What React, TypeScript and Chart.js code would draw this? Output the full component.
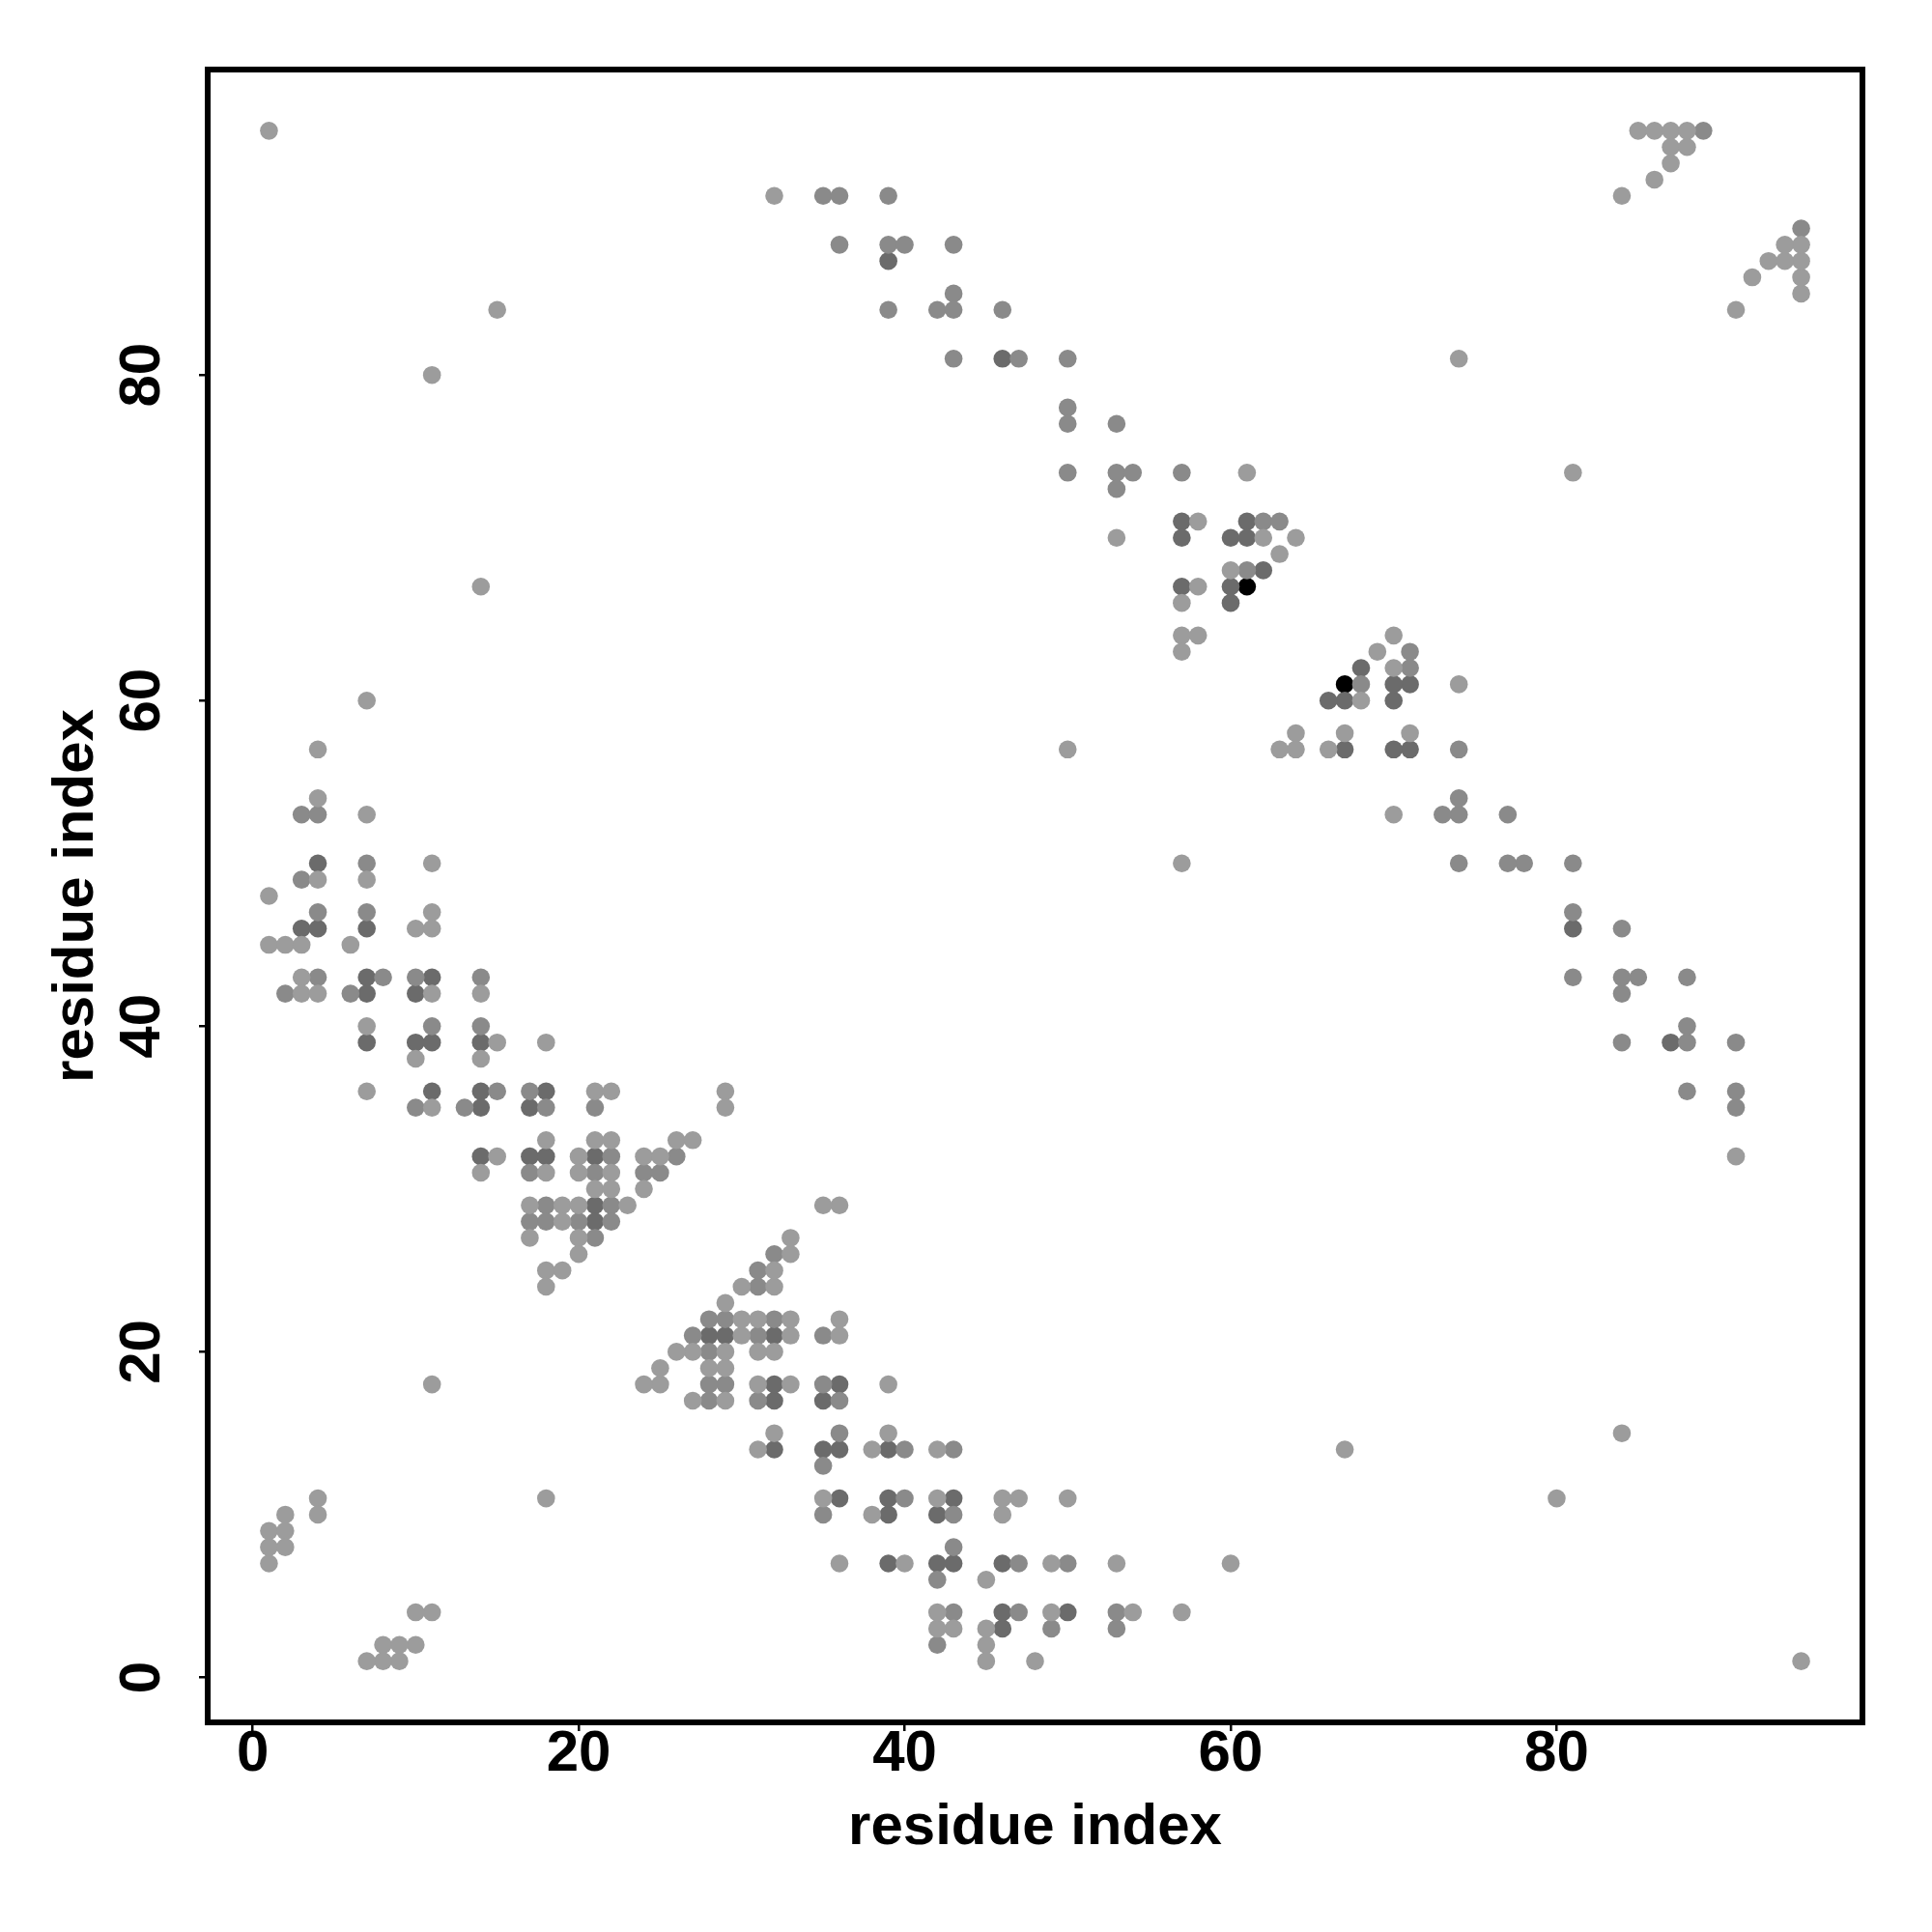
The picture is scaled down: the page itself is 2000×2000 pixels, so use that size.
import React, { useEffect, useRef } from "react";
import { Chart, registerables } from "chart.js";

Chart.register(...registerables);

const axisMin = -2.76;
const axisMax = 98.76;
const tickValues = [0, 20, 40, 60, 80];
const xTitle = "residue index";
const yTitle = "residue index";

const lightPoints: [number, number][] = [
  [1, 95], [1, 48], [1, 45], [1, 9], [1, 8], [1, 7],
  [2, 45], [2, 10], [2, 9], [2, 8],
  [3, 45], [3, 43], [3, 42],
  [4, 57], [4, 54], [4, 49], [4, 42], [4, 11], [4, 10],
  [6, 45],
  [7, 60], [7, 53], [7, 49], [7, 40], [7, 36],
  [10, 46], [10, 38],
  [11, 80], [11, 50], [11, 47], [11, 46], [11, 42], [11, 35], [11, 18],
  [14, 67], [14, 42], [14, 38], [14, 31],
  [15, 84], [15, 39], [15, 32],
  [17, 29], [17, 27],
  [18, 39], [18, 33], [18, 31], [18, 25], [18, 24],
  [19, 29], [19, 28], [19, 25],
  [20, 32], [20, 31], [20, 29], [20, 27], [20, 26],
  [21, 36], [21, 33], [21, 30],
  [22, 36], [22, 33], [22, 31], [22, 30],
  [23, 29],
  [24, 32], [24, 30],
  [25, 32],
  [26, 33],
  [27, 33],
  [29, 36], [29, 35],
  [32, 91],
  [50, 57],
  [53, 70],
  [57, 66], [57, 64], [57, 63],
  [58, 71], [58, 67], [58, 64],
  [60, 68],
  [61, 74],
  [62, 70],
  [63, 69],
  [64, 70],
  [74, 81],
  [84, 91], [85, 95], [86, 95], [86, 92], [87, 95], [87, 94], [87, 93], [88, 95], [88, 94],
  [95, 1], [48, 1], [45, 1], [9, 1], [8, 1], [7, 1],
  [45, 2], [10, 2], [9, 2], [8, 2],
  [45, 3], [43, 3], [42, 3],
  [57, 4], [54, 4], [49, 4], [42, 4], [11, 4], [10, 4],
  [45, 6],
  [60, 7], [53, 7], [49, 7], [40, 7], [36, 7],
  [46, 10], [38, 10],
  [80, 11], [50, 11], [47, 11], [46, 11], [42, 11], [35, 11], [18, 11],
  [67, 14], [42, 14], [38, 14], [31, 14],
  [84, 15], [39, 15], [32, 15],
  [29, 17], [27, 17],
  [39, 18], [33, 18], [31, 18], [25, 18], [24, 18],
  [29, 19], [28, 19], [25, 19],
  [32, 20], [31, 20], [29, 20], [27, 20], [26, 20],
  [36, 21], [33, 21], [30, 21],
  [36, 22], [33, 22], [31, 22], [30, 22],
  [29, 23],
  [32, 24], [30, 24],
  [32, 25],
  [33, 26],
  [33, 27],
  [36, 29], [35, 29],
  [91, 32],
  [57, 50],
  [70, 53],
  [66, 57], [64, 57], [63, 57],
  [71, 58], [67, 58], [64, 58],
  [68, 60],
  [74, 61],
  [70, 62],
  [69, 63],
  [70, 64],
  [81, 74],
  [91, 84], [95, 85], [95, 86], [92, 86], [95, 87], [94, 87], [93, 87], [95, 88], [94, 88],
];

const mediumPoints: [number, number][] = [
  [2, 42], [3, 53], [3, 49], [4, 53], [4, 47], [4, 43], [6, 42], [7, 50], [7, 47], [8, 43],
  [10, 43], [10, 35], [11, 40], [13, 35], [14, 43], [14, 40], [15, 36],
  [17, 36], [17, 31], [17, 28], [18, 35], [18, 29], [18, 28], [20, 28], [21, 35], [21, 31],
  [21, 27], [22, 32], [22, 29], [22, 28], [24, 31], [25, 31], [26, 32],
  [35, 91], [36, 91], [36, 88], [39, 91], [39, 88], [39, 84], [40, 88], [42, 84], [43, 88],
  [43, 85], [43, 84], [43, 81], [46, 84], [47, 81], [50, 81], [50, 78], [50, 77], [50, 74],
  [53, 77], [53, 74], [53, 73], [54, 74], [57, 74], [61, 68], [62, 71], [63, 71], [89, 95],
  [42, 2], [53, 3], [49, 3], [53, 4], [47, 4], [43, 4], [42, 6], [50, 7], [47, 7], [43, 8],
  [43, 10], [35, 10], [40, 11], [35, 13], [43, 14], [40, 14], [36, 15],
  [36, 17], [31, 17], [28, 17], [35, 18], [29, 18], [28, 18], [28, 20], [35, 21], [31, 21],
  [27, 21], [32, 22], [29, 22], [28, 22], [31, 24], [31, 25], [32, 26],
  [91, 35], [91, 36], [88, 36], [91, 39], [88, 39], [84, 39], [88, 40], [84, 42], [88, 43],
  [85, 43], [84, 43], [81, 43], [84, 46], [81, 47], [81, 50], [78, 50], [77, 50], [74, 50],
  [77, 53], [74, 53], [73, 53], [74, 54], [74, 57], [68, 61], [71, 62], [71, 63], [95, 89],
];

const darkPoints: [number, number][] = [
  [3, 46], [4, 50], [4, 46], [7, 46], [7, 43], [7, 42], [7, 39], [10, 42], [10, 39],
  [11, 43], [11, 39], [11, 36], [14, 39], [14, 36], [14, 35], [14, 32],
  [17, 35], [17, 32], [18, 36], [18, 32], [21, 32], [21, 29], [21, 28],
  [39, 87], [46, 81],
  [57, 71], [57, 70], [57, 67], [60, 70], [60, 67], [60, 66], [61, 71], [61, 70], [62, 68],
  [46, 3], [50, 4], [46, 4], [46, 7], [43, 7], [42, 7], [39, 7], [42, 10], [39, 10],
  [43, 11], [39, 11], [36, 11], [39, 14], [36, 14], [35, 14], [32, 14],
  [35, 17], [32, 17], [36, 18], [32, 18], [32, 21], [29, 21], [28, 21],
  [87, 39], [81, 46],
  [71, 57], [70, 57], [67, 57], [70, 60], [67, 60], [66, 60], [71, 61], [70, 61], [68, 62],
];

const blackPoints: [number, number][] = [
  [61, 67], [67, 61],
];

export default function App() {
  const ref = useRef<HTMLCanvasElement>(null);

  useEffect(() => {
    if (!ref.current) return;
    const toXY = (arr: [number, number][]) => arr.map(([x, y]) => ({ x, y }));
    const mk = (pts: [number, number][], color: string) => ({
      data: toXY(pts),
      backgroundColor: color,
      borderWidth: 0,
      pointRadius: 9.3,
      pointHoverRadius: 9.3,
      pointStyle: "circle" as const,
    });
    const boxPlugin = {
      id: "box",
      afterDraw(chart: any) {
        const { ctx, chartArea: a } = chart;
        ctx.save();
        ctx.strokeStyle = "#000";
        ctx.lineWidth = 6;
        ctx.lineJoin = "miter";
        ctx.strokeRect(a.left, a.top, a.right - a.left, a.bottom - a.top);
        ctx.restore();
      },
    };
    const family = "'Liberation Sans', Arial, Helvetica, sans-serif";
    const chart = new Chart(ref.current, {
      type: "scatter",
      data: {
        datasets: [
          mk(lightPoints, "#9c9c9c"),
          mk(mediumPoints, "#8a8a8a"),
          mk(darkPoints, "#6b6b6b"),
          mk(blackPoints, "#000000"),
        ],
      },
      options: {
        animation: false,
        responsive: false,
        devicePixelRatio: 1,
        layout: { padding: { top: 72, right: 72, left: 0, bottom: 0 } },
        plugins: { legend: { display: false }, tooltip: { enabled: false } },
        scales: {
          x: {
            type: "linear",
            position: "bottom",
            min: axisMin,
            max: axisMax,
            afterBuildTicks: (s: any) => {
              s.ticks = tickValues.map((v) => ({ value: v }));
            },
            afterFit: (s: any) => {
              s.height = 217;
            },
            grid: {
              display: true,
              drawOnChartArea: false,
              drawTicks: true,
              tickLength: 9,
              lineWidth: 2.5,
              color: "#000",
            },
            border: { display: false },
            ticks: {
              color: "#000",
              font: { family, size: 60, weight: "bold", lineHeight: 0.8 },
              padding: 0,
              minRotation: 0,
              maxRotation: 0,
              autoSkip: false,
            },
            title: {
              display: true,
              text: xTitle,
              color: "#000",
              font: { family, size: 60, weight: "bold", lineHeight: 1.2 },
              padding: { top: 0, bottom: 72 },
            },
          },
          y: {
            type: "linear",
            position: "left",
            min: axisMin,
            max: axisMax,
            afterBuildTicks: (s: any) => {
              s.ticks = tickValues.map((v) => ({ value: v }));
            },
            afterFit: (s: any) => {
              s.width = 215;
            },
            grid: {
              display: true,
              drawOnChartArea: false,
              drawTicks: true,
              tickLength: 9,
              lineWidth: 2.5,
              color: "#000",
            },
            border: { display: false },
            ticks: {
              color: "#000",
              font: { family, size: 60, weight: "bold", lineHeight: 1.2 },
              padding: 24,
              minRotation: 90,
              maxRotation: 90,
              crossAlign: "center",
              autoSkip: false,
            },
            title: {
              display: true,
              text: yTitle,
              color: "#000",
              font: { family, size: 60, weight: "bold", lineHeight: 1.2 },
              padding: { top: 43, bottom: 0 },
            },
          },
        },
      } as any,
      plugins: [boxPlugin],
    });
    return () => chart.destroy();
  }, []);

  return (
    <div style={{ position: "absolute", left: 0, top: 0, width: 2000, height: 2000, background: "#fff" }}>
      <canvas ref={ref} width={2000} height={2000} style={{ display: "block", width: 2000, height: 2000 }} />
    </div>
  );
}
